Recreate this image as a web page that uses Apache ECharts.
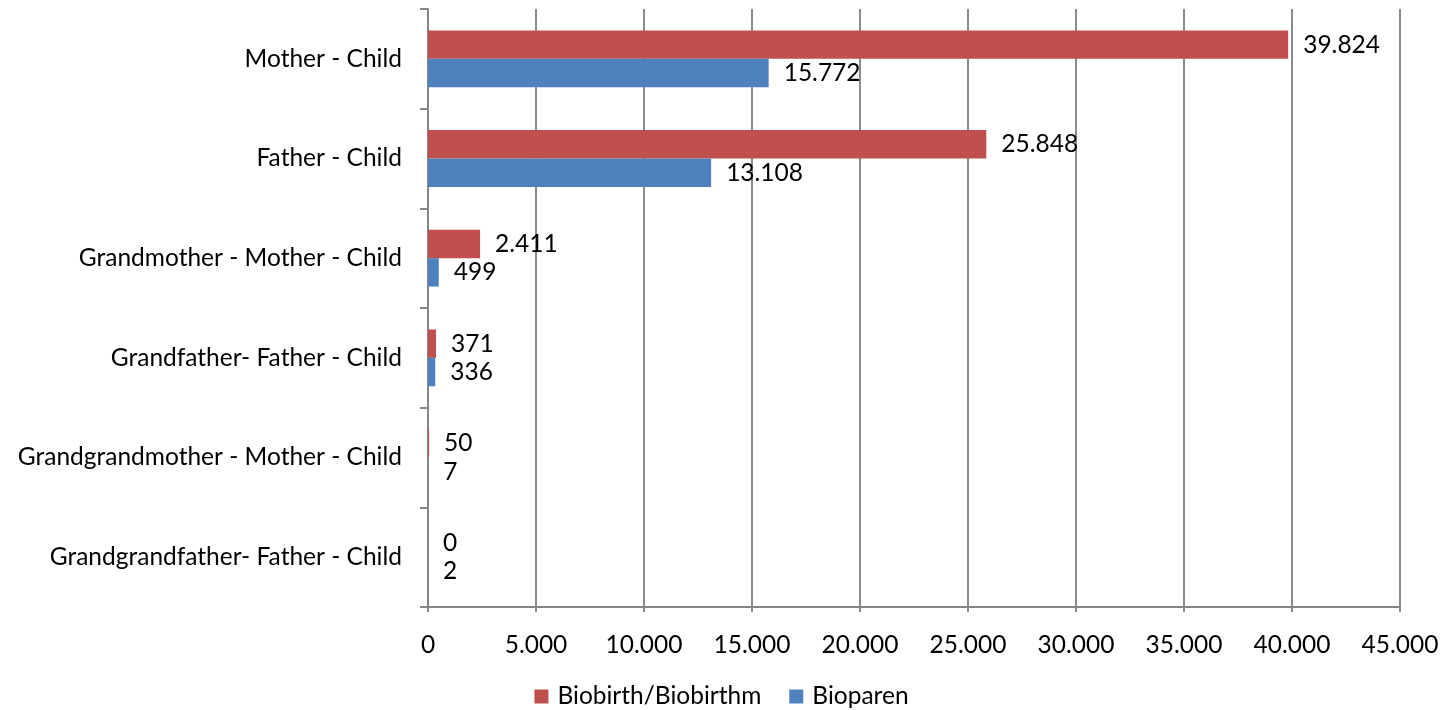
<!DOCTYPE html>
<html>
<head>
<meta charset="utf-8">
<script src="https://cdn.jsdelivr.net/npm/echarts@6/dist/echarts.min.js"></script>
<style>html,body{margin:0;padding:0;background:#fff}#c{width:1443px;height:710px}</style>
</head>
<body>
<div id="c"></div>
<script>
const categories = ["Mother - Child", "Father - Child", "Grandmother - Mother - Child", "Grandfather- Father - Child", "Grandgrandmother - Mother - Child", "Grandgrandfather- Father - Child"];
const biobirth = [39824, 25848, 2411, 371, 50, 0];
const bioparen = [15772, 13108, 499, 336, 7, 2];
const seriesNames = ["Biobirth/Biobirthm", "Bioparen"];

function fmt(v){ return String(Math.round(v)).replace(/\B(?=(\d{3})+(?!\d))/g, "."); }
const font = "Lato, 'Open Sans', sans-serif";
const fs = 24.5;
const chart = echarts.init(document.getElementById('c'));
const lbl = {show:true, position:'right', distance:15, color:'#000', fontSize:fs, fontFamily:font, formatter:p=>fmt(p.value)};
chart.setOption({
  animation:false,
  textStyle:{fontFamily:font},
  grid:{left:428, right:43, top:9, bottom:103, containLabel:false},
  legend:{bottom:-4, left:'center', itemWidth:14, itemHeight:14, itemGap:28, icon:'rect',
    textStyle:{fontSize:fs, color:'#000', fontFamily:font, padding:[0,0,0,4]}, data:seriesNames},
  xAxis:{type:'value', min:0, max:45000, interval:5000,
    axisLine:{show:true, lineStyle:{color:'#868686', width:2}},
    axisTick:{show:true, length:5, lineStyle:{color:'#868686', width:2}},
    splitLine:{show:true, lineStyle:{color:'#8c8c8c', width:2}},
    axisLabel:{fontSize:fs, color:'#000', margin:26, formatter:v=>fmt(v), fontFamily:font}},
  yAxis:{type:'category', inverse:true, data:categories,
    axisLine:{show:true, lineStyle:{color:'#868686', width:2}},
    axisTick:{show:true, length:8, lineStyle:{color:'#868686', width:2}},
    axisLabel:{fontSize:fs, color:'#000', margin:26, fontFamily:font}},
  series:[
    {name:seriesNames[0], type:'bar', data:biobirth, itemStyle:{color:'#C0504D'}, barGap:'0%', barCategoryGap:'43%', label:lbl},
    {name:seriesNames[1], type:'bar', data:bioparen, itemStyle:{color:'#4F81BD'}, barGap:'0%', barCategoryGap:'43%', label:lbl}
  ]
});
</script>
</body>
</html>
